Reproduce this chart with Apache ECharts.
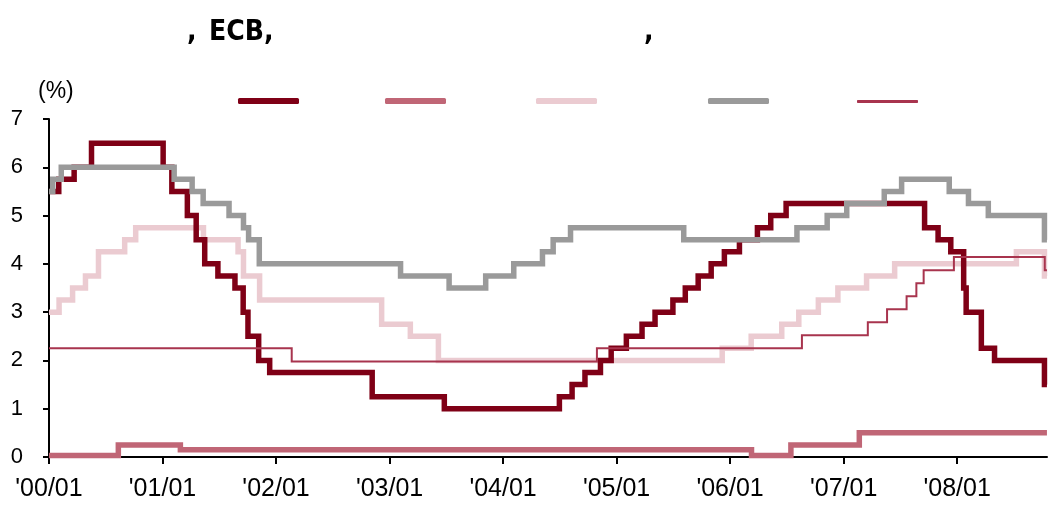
<!DOCTYPE html>
<html>
<head>
<meta charset="utf-8">
<script src="https://cdn.jsdelivr.net/npm/echarts@6/dist/echarts.min.js"></script>
<style>
html,body{margin:0;padding:0;background:#fff;}
#chart{width:1064px;height:506px;}
</style>
</head>
<body>
<div id="chart"></div>
<script>
// ---- data: policy-rate change dates and new levels (%) ----
const usDates = ['2000-01-01','2000-02-02','2000-03-21','2000-05-16','2001-01-03','2001-01-31','2001-03-20','2001-04-18','2001-05-15','2001-06-27','2001-08-21','2001-09-17','2001-10-02','2001-11-06','2001-12-11','2002-11-06','2003-06-25','2004-06-30','2004-08-10','2004-09-21','2004-11-10','2004-12-14','2005-02-02','2005-03-22','2005-05-03','2005-06-30','2005-08-09','2005-09-20','2005-11-01','2005-12-13','2006-01-31','2006-03-28','2006-05-10','2006-06-29','2007-09-18','2007-10-31','2007-12-11','2008-01-22','2008-01-30','2008-03-18','2008-04-30','2008-10-08','2008-10-16'];
const usRates = [5.5,5.75,6.0,6.5,6.0,5.5,5.0,4.5,4.0,3.75,3.5,3.0,2.5,2.0,1.75,1.25,1.0,1.25,1.5,1.75,2.0,2.25,2.5,2.75,3.0,3.25,3.5,3.75,4.0,4.25,4.5,4.75,5.0,5.25,4.75,4.5,4.25,3.5,3.0,2.25,2.0,1.5,1.5];

const jpDates = ['2000-01-01','2000-08-11','2001-02-28','2006-03-09','2006-07-14','2007-02-21','2008-10-16'];
const jpRates = [0.03,0.25,0.15,0.03,0.25,0.5,0.5];

const ecbDates = ['2000-01-01','2000-02-03','2000-03-16','2000-04-27','2000-06-08','2000-09-01','2000-10-06','2001-05-11','2001-08-31','2001-09-18','2001-11-09','2002-12-06','2003-03-07','2003-06-06','2005-12-06','2006-03-08','2006-06-15','2006-08-09','2006-10-11','2006-12-13','2007-03-14','2007-06-13','2008-07-09','2008-10-08','2008-10-16'];
const ecbRates = [3.0,3.25,3.5,3.75,4.25,4.5,4.75,4.5,4.25,3.75,3.25,2.75,2.5,2.0,2.25,2.5,2.75,3.0,3.25,3.5,3.75,4.0,4.25,3.75,3.75];

const ukDates = ['2000-01-01','2000-01-13','2000-02-10','2001-02-08','2001-04-05','2001-05-10','2001-08-02','2001-09-18','2001-10-04','2001-11-08','2003-02-06','2003-07-10','2003-11-06','2004-02-05','2004-05-06','2004-06-10','2004-08-05','2005-08-04','2006-08-03','2006-11-09','2007-01-11','2007-05-10','2007-07-05','2007-12-06','2008-02-07','2008-04-10','2008-10-08','2008-10-16'];
const ukRates = [5.5,5.75,6.0,5.75,5.5,5.25,5.0,4.75,4.5,4.0,3.75,3.5,3.75,4.0,4.25,4.5,4.75,4.5,4.75,5.0,5.25,5.5,5.75,5.5,5.25,5.0,4.5,4.5];

const cnDates = ['2000-01-01','2002-02-21','2004-10-29','2006-08-19','2007-03-18','2007-05-19','2007-07-21','2007-08-22','2007-09-15','2007-12-21','2008-10-09','2008-10-16'];
const cnRates = [2.25,1.98,2.25,2.52,2.79,3.06,3.33,3.60,3.87,4.14,3.87,3.87];

const seriesNames = ['米国', '日本', 'ユーロ圏', '英国', '中国'];
const tickLabels = ["'00/01","'01/01","'02/01","'03/01","'04/01","'05/01","'06/01","'07/01","'08/01"];
const tickMonths = [0,12,24,36,48,60,72,84,96];
const titleParts = [',', 'ECB,', ','];
const yUnit = '(%)';

// months since 2000/01
function toMonth(s){
  const p = s.split('-').map(Number);
  return (p[0]-2000)*12 + (p[1]-1) + (p[2]-1)/30.4;
}
function pairs(d, v){ return d.map((s,i)=>[toMonth(s), v[i]]); }

const colors = {
  '米国':'#7f0016',
  '日本':'#c06676',
  'ユーロ圏':'#ebcbd1',
  '英国':'#9a9a9a',
  '中国':'#a8344e'
};

function lineSeries(name, d, v, w){
  return {
    name: name, type:'line', step:'end', data: pairs(d,v),
    symbol:'none', showSymbol:false,
    lineStyle:{color:colors[name], width:w, join:'miter'},
    itemStyle:{color:colors[name]},
    animation:false
  };
}

const legendPos = [[238,98,6],[385,98,6],[536,98,6],[708,98,6],[857,100,3]];
const legends = seriesNames.map((n,i)=>({
  data:[n], left:legendPos[i][0], top:legendPos[i][1], padding:0,
  itemWidth:61, itemHeight:legendPos[i][2], icon:'roundRect',
  formatter:()=>'', selectedMode:false,
  textStyle:{fontSize:1}
}));

const titleFont = "'Liberation Sans Narrow', 'DejaVu Sans Condensed', 'Liberation Sans', sans-serif";
const titleStyle = {fontFamily:titleFont, fontWeight:'bold', fontSize:28, color:'#000'};

const chart = echarts.init(document.getElementById('chart'), null, {renderer:'canvas'});
chart.setOption({
  backgroundColor:'#ffffff',
  animation:false,
  title:[
    {text:titleParts[0], left:187, top:19, padding:0, textStyle:titleStyle},
    {text:titleParts[1], left:209, top:19, padding:0, textStyle:titleStyle},
    {text:titleParts[2], left:644, top:19, padding:0, textStyle:titleStyle},
    {text:yUnit, left:38, top:80, padding:0, textStyle:{fontFamily:'Liberation Sans', fontWeight:'normal', fontSize:23, color:'#000'}}
  ],
  legend: legends,
  grid:{left:49, right:17, top:119, bottom:49, containLabel:false},
  xAxis:{
    type:'value', min:0, max:105.5, interval:12,
    axisLine:{show:true, onZero:false, lineStyle:{color:'#000', width:2}},
    axisTick:{show:true, length:7, inside:false, lineStyle:{color:'#000', width:2}, customValues:tickMonths},
    axisLabel:{
      customValues:tickMonths, margin:20,
      fontFamily:'Liberation Sans', fontSize:25, color:'#000',
      formatter:(v)=>tickLabels[tickMonths.indexOf(Math.round(v))] || ''
    },
    splitLine:{show:false}
  },
  yAxis:{
    type:'value', min:0, max:7, interval:1,
    axisLine:{show:true, lineStyle:{color:'#000', width:2}},
    axisTick:{show:true, length:6, inside:false, lineStyle:{color:'#000', width:2}},
    axisLabel:{margin:26, fontFamily:'Liberation Sans', fontSize:22, color:'#000'},
    splitLine:{show:false}
  },
  series:[
    lineSeries('日本', jpDates, jpRates, 5.5),
    lineSeries('ユーロ圏', ecbDates, ecbRates, 5.5),
    lineSeries('米国', usDates, usRates, 5.5),
    lineSeries('英国', ukDates, ukRates, 5.5),
    lineSeries('中国', cnDates, cnRates, 2)
  ]
});
</script>
</body>
</html>
